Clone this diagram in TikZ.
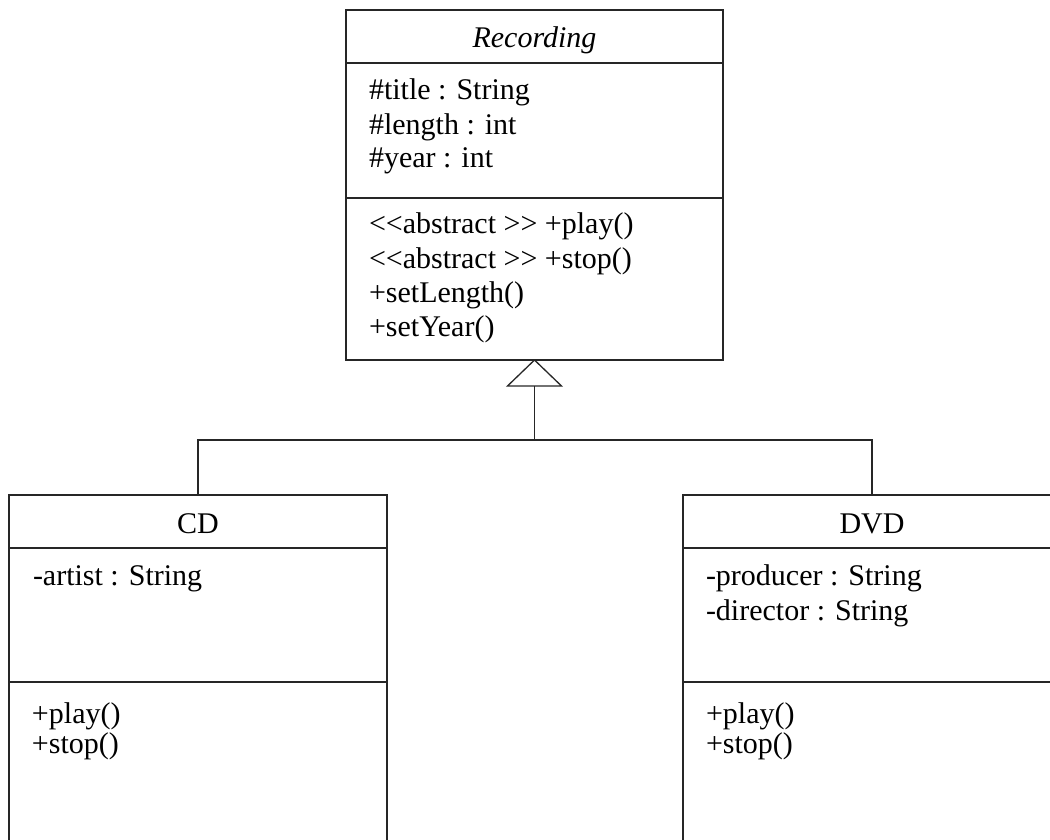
\documentclass[tikz,border=0pt]{standalone}
\usepackage{fontspec}
\setmainfont{Liberation Serif}
\begin{document}
\begin{tikzpicture}[x=0.5pt,y=-0.5pt,
  comp/.style={draw=black!85, line width=0.65pt, inner sep=0pt, outer sep=0pt, minimum width=#1, anchor=north},
  txt/.style={inner sep=0pt, outer sep=0pt, anchor=base west, font=\fontsize{15}{17}\selectfont},
  ttl/.style={inner sep=0pt, outer sep=0pt, anchor=base, font=\fontsize{15}{17}\selectfont},
  conn/.style={draw=black!85, line width=0.65pt}]
\useasboundingbox (0,0) rectangle (1050,840);
\clip (0,0) rectangle (1050,840);
% Recording
\node[comp=188.5pt, minimum height=26.5pt] (recN) at (534.5,10) {};
\node[comp=188.5pt, minimum height=67.5pt] (recA) at (recN.south) {};
\node[comp=188.5pt, minimum height=81pt] (recM) at (recA.south) {};
\node[ttl, font=\fontsize{15}{17}\selectfont\itshape] (recT) at (534.5,48) {Recording};
\node[txt] (ra1) at (369,100) {\#title : String};
\node[txt] (ra2) at (369,134) {\#length : int};
\node[txt] (ra3) at (369,168) {\#year : int};
\node[txt] (rm1) at (369,234) {<{}<abstract >{}> +play()};
\node[txt] (rm2) at (369,268) {<{}<abstract >{}> +stop()};
\node[txt] (rm3) at (369,302) {+setLength()};
\node[txt] (rm4) at (369,336) {+setYear()};
% CD
\node[comp=189pt, minimum height=26.5pt] (cdN) at (198,495) {};
\node[comp=189pt, minimum height=67pt] (cdA) at (cdN.south) {};
\node[comp=189pt, minimum height=95pt] (cdM) at (cdA.south) {};
\node[ttl] (cdT) at (198,533) {CD};
\node[txt] (ca1) at (33,585) {-artist : String};
\node[txt] (cm1) at (32,723) {+play()};
\node[txt] (cm2) at (32,753) {+stop()};
% DVD
\node[comp=189pt, minimum height=26.5pt] (dvdN) at (872,495) {};
\node[comp=189pt, minimum height=67pt] (dvdA) at (dvdN.south) {};
\node[comp=189pt, minimum height=95pt] (dvdM) at (dvdA.south) {};
\node[ttl] (dvdT) at (872,533) {DVD};
\node[txt] (da1) at (706,585) {-producer : String};
\node[txt] (da2) at (706,620) {-director : String};
\node[txt] (dm1) at (706,723) {+play()};
\node[txt] (dm2) at (706,753) {+stop()};
% generalization
\coordinate (tri) at ([yshift=-13pt]recM.south);
\coordinate (jn) at ([yshift=-40pt]recM.south);
\draw[conn, line join=miter] (recM.south) -- ++(-13.5pt,-13pt) -- ++(27pt,0) -- cycle;
\draw[conn] (tri) -- (jn);
\draw[conn] (cdN.north) |- (jn);
\draw[conn] (dvdN.north) |- (jn);
\end{tikzpicture}
\end{document}
